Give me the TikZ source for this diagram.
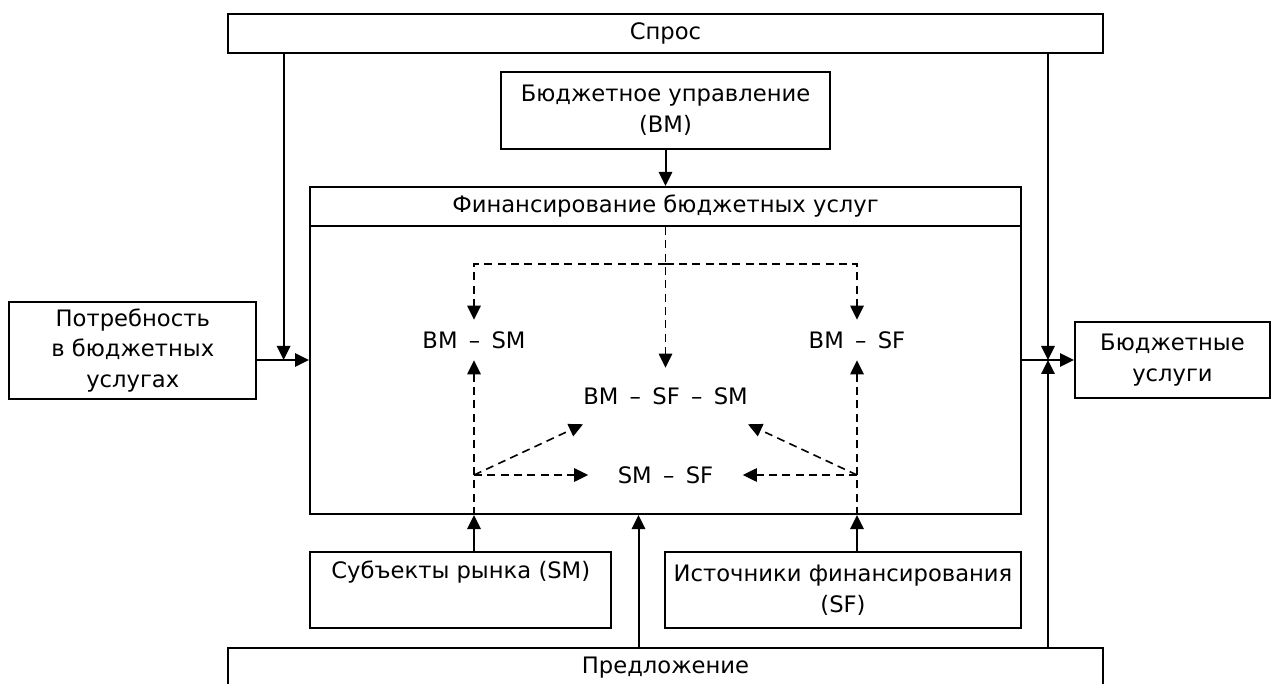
\documentclass[tikz,border=0pt]{standalone}
\usepackage{fontspec}
\setmainfont{DejaVu Sans}
\usetikzlibrary{calc, positioning, arrows.meta}

\tikzset{
  box/.style={draw, line width=1.5pt, rectangle, inner sep=0pt, align=center,
    font=\fontsize{17}{23}\selectfont},
  lbl/.style={inner xsep=0pt, inner ysep=0pt, minimum height=30pt,
    font=\fontsize{17}{23}\selectfont},
  arr/.style={line width=1.5pt, -{Triangle[length=10.5pt, width=10pt]}},
  darr/.style={line width=1.2pt, dash pattern=on 6pt off 4pt,
    -{Triangle[length=10.5pt, width=10pt]}},
}
\newcommand{\dsh}{\hspace{0.5em}–\hspace{0.5em}}

\begin{document}
\begin{tikzpicture}[x=0.75pt, y=-0.75pt]
  \useasboundingbox (0,0) rectangle (1286,684);

  % outer boxes
  \node[box, minimum width=656.25pt, minimum height=29.25pt] (spros) at (665.5,33.5) {Спрос};
  \node[box, minimum width=246.75pt, minimum height=57.75pt] (bm) at (665.5,110.5) {Бюджетное управление\\(BM)};
  \node[box, minimum width=533.25pt, minimum height=245.25pt] (fin) at (665.5,350.5) {};
  \node[box, anchor=north, minimum width=533.25pt, minimum height=29.25pt] (hdr) at (fin.north) {Финансирование бюджетных услуг};
  \node[box, minimum width=184.9pt, minimum height=72.75pt] (need) at (132.75,350.5) {Потребность\\в бюджетных\\услугах};
  \node[box, minimum width=146.25pt, minimum height=57pt] (serv) at (1172.5,360) {Бюджетные\\услуги};
  \node[box, minimum width=226pt, minimum height=57pt] (subj) at (460.75,590) {Субъекты рынка (SM)\\\strut};
  \node[box, minimum width=267pt, minimum height=57pt] (src) at (843,590) {Источники финансирования\\(SF)};
  \node[box, minimum width=656.25pt, minimum height=29.25pt] (offer) at (665.5,667.5) {Предложение};

  % inner labels
  \node[lbl] (bmsm) at (474,340) {BM\dsh SM};
  \node[lbl] (bmsf) at (857,340) {BM\dsh SF};
  \node[lbl, minimum height=42pt] (bmsfsm) at (665.5,396) {BM\dsh SF\dsh SM};
  \node[lbl, inner xsep=22pt] (smsf) at (665.5,475) {SM\dsh SF};

  \coordinate (jl)  at (283.6,360);
  \coordinate (jr)  at (1048,360);
  \coordinate (jo)  at (638.5,600);
  \coordinate (hub) at (665.5,264);
  \coordinate (jsm) at (474,475);
  \coordinate (jsf) at (857,475);

  % solid flows
  \draw[arr] (spros.south -| jl) to (jl);
  \draw[arr] (need.east |- jl) to (fin.west |- jl);
  \draw[arr] (spros.south -| jr) to (jr);
  \draw[arr] (offer.north -| jr) to (jr);
  \draw[arr] (fin.east |- jr) to (serv.west |- jr);
  \draw[arr] (bm.south) to (hdr.north);
  \draw[arr] (subj.north -| jsm) to (fin.south -| jsm);
  \draw[arr] (src.north -| jsf) to (fin.south -| jsf);
  \draw[arr] (offer.north -| jo) to (fin.south -| jo);

  % dashed links
  \draw[darr] (hdr.south) to (bmsfsm.north);
  \draw[darr] (hub) -| (bmsm.north);
  \draw[darr] (hub) -| (bmsf.north);
  \draw[darr] (fin.south -| jsm) to (bmsm.south);
  \draw[darr] (fin.south -| jsf) to (bmsf.south);
  \draw[darr] (jsm) to (bmsfsm.south west);
  \draw[darr] (jsf) to (bmsfsm.south east);
  \draw[darr] (jsm) to (smsf.west);
  \draw[darr] (jsf) to (smsf.east);

\end{tikzpicture}
\end{document}
